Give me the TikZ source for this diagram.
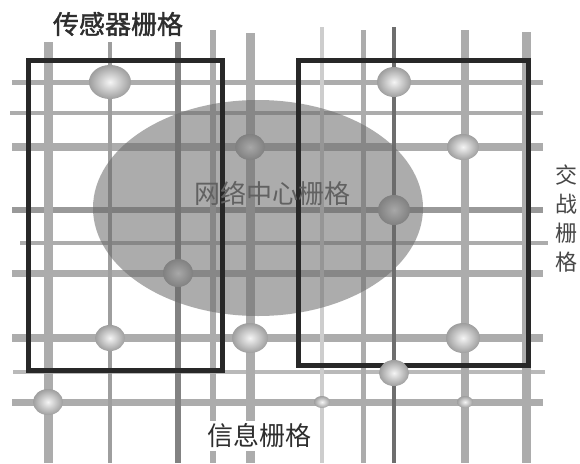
\documentclass[tikz,border=0pt]{standalone}
\usepackage{fontspec}
\newfontfamily\cjk{Noto Sans CJK SC}
\newfontfamily\cjkb[FakeBold=1.5]{Noto Sans CJK SC}
\definecolor{gA}{RGB}{172,172,172}
\definecolor{gB}{RGB}{130,130,130}
\definecolor{gC}{RGB}{205,205,205}
\definecolor{gD}{RGB}{110,110,110}
\definecolor{gE}{RGB}{185,185,185}
\definecolor{blobc}{RGB}{105,105,105}
\definecolor{framec}{RGB}{40,40,40}
\tikzset{
  gridv/.style={draw=gA},
  gridh/.style={draw=gA},
  bead/.style={inner color=black!4, outer color=black!38},
  framebox/.style={draw=framec, line width=5},
  lbl/.style={font=\cjk\fontsize{26}{29}\selectfont, inner sep=1},
}
\begin{document}
\begin{tikzpicture}[x=1pt,y=-1pt]
\fill[white] (0,0) rectangle (580,463);
\useasboundingbox (0,0) rectangle (580,463);
% horizontal lines
\draw[gridh, line width=5] (12,82) -- (543,82);
\draw[gridh, line width=4] (10,113) -- (543,113);
\draw[gridh, line width=8] (12,147) -- (543,147);
\draw[gridh, draw=black!40, line width=6] (12,210) -- (543,210);
\draw[gridh, line width=4] (20,243) -- (548,243);
\draw[gridh, line width=7] (12,273) -- (543,273);
\draw[gridh, line width=8] (12,338) -- (543,338);
\draw[gridh, draw=gE, line width=4] (13,372) -- (545,372);
\draw[gridh, line width=7] (12,402) -- (543,402);
% vertical lines
\draw[gridv, line width=9] (48,42) -- (48,463);
\draw[gridv, draw=black!38, line width=4] (110,42) -- (110,463);
\draw[gridv, draw=gB, line width=6] (178,42) -- (178,463);
\draw[gridv, line width=6] (213,30) -- (213,463);
\draw[gridv, line width=9] (250,33) -- (250,463);
\draw[gridv, draw=gC, line width=4] (322,27) -- (322,463);
\draw[gridv, line width=5] (363,30) -- (363,463);
\draw[gridv, draw=gD, line width=4] (394,27) -- (394,463);
\draw[gridv, line width=8] (465,30) -- (465,463);
\draw[gridv, line width=9] (526,32) -- (526,463);
% beads
\shade[bead] (110,82) ellipse [x radius=21, y radius=17];
\shade[bead] (250,147) ellipse [x radius=15, y radius=13];
\shade[bead] (394,82) ellipse [x radius=17, y radius=15];
\shade[bead] (463,147) ellipse [x radius=16, y radius=13];
\shade[bead] (394,210) ellipse [x radius=16, y radius=15];
\shade[bead] (178,273) ellipse [x radius=15, y radius=14];
\shade[bead] (110,338) ellipse [x radius=15, y radius=13];
\shade[bead] (250,338) ellipse [x radius=18, y radius=15];
\shade[bead] (48,402) ellipse [x radius=15, y radius=13];
\shade[bead] (463,338) ellipse [x radius=17, y radius=15];
\shade[bead] (322,402) ellipse [x radius=8, y radius=6];
\shade[bead] (465,402) ellipse [x radius=8, y radius=6];
% network-centric blob
\fill[blobc, opacity=0.55] (258,208) ellipse [x radius=165, y radius=108];
% frames
\draw[framebox] (28,60) rectangle (222,370);
\draw[framebox] (298,60) rectangle (528,365);
\shade[bead] (394,373) ellipse [x radius=15, y radius=13];
% labels
\node[lbl, font=\cjkb\fontsize{26}{29}\selectfont, text=black!82] (sg) at (118,24) {传感器栅格};
\node[lbl, text=black!62] (ng) at (272,193) {网络中心栅格};
\node[lbl, font=\cjk\fontsize{22}{29}\selectfont, text=black!72, align=center] (jg) at (566,219) {交\\战\\栅\\格};
\node[lbl, fill=white, text=black!82, inner sep=3] (xg) at (259,436) {信息栅格};
\end{tikzpicture}
\end{document}
